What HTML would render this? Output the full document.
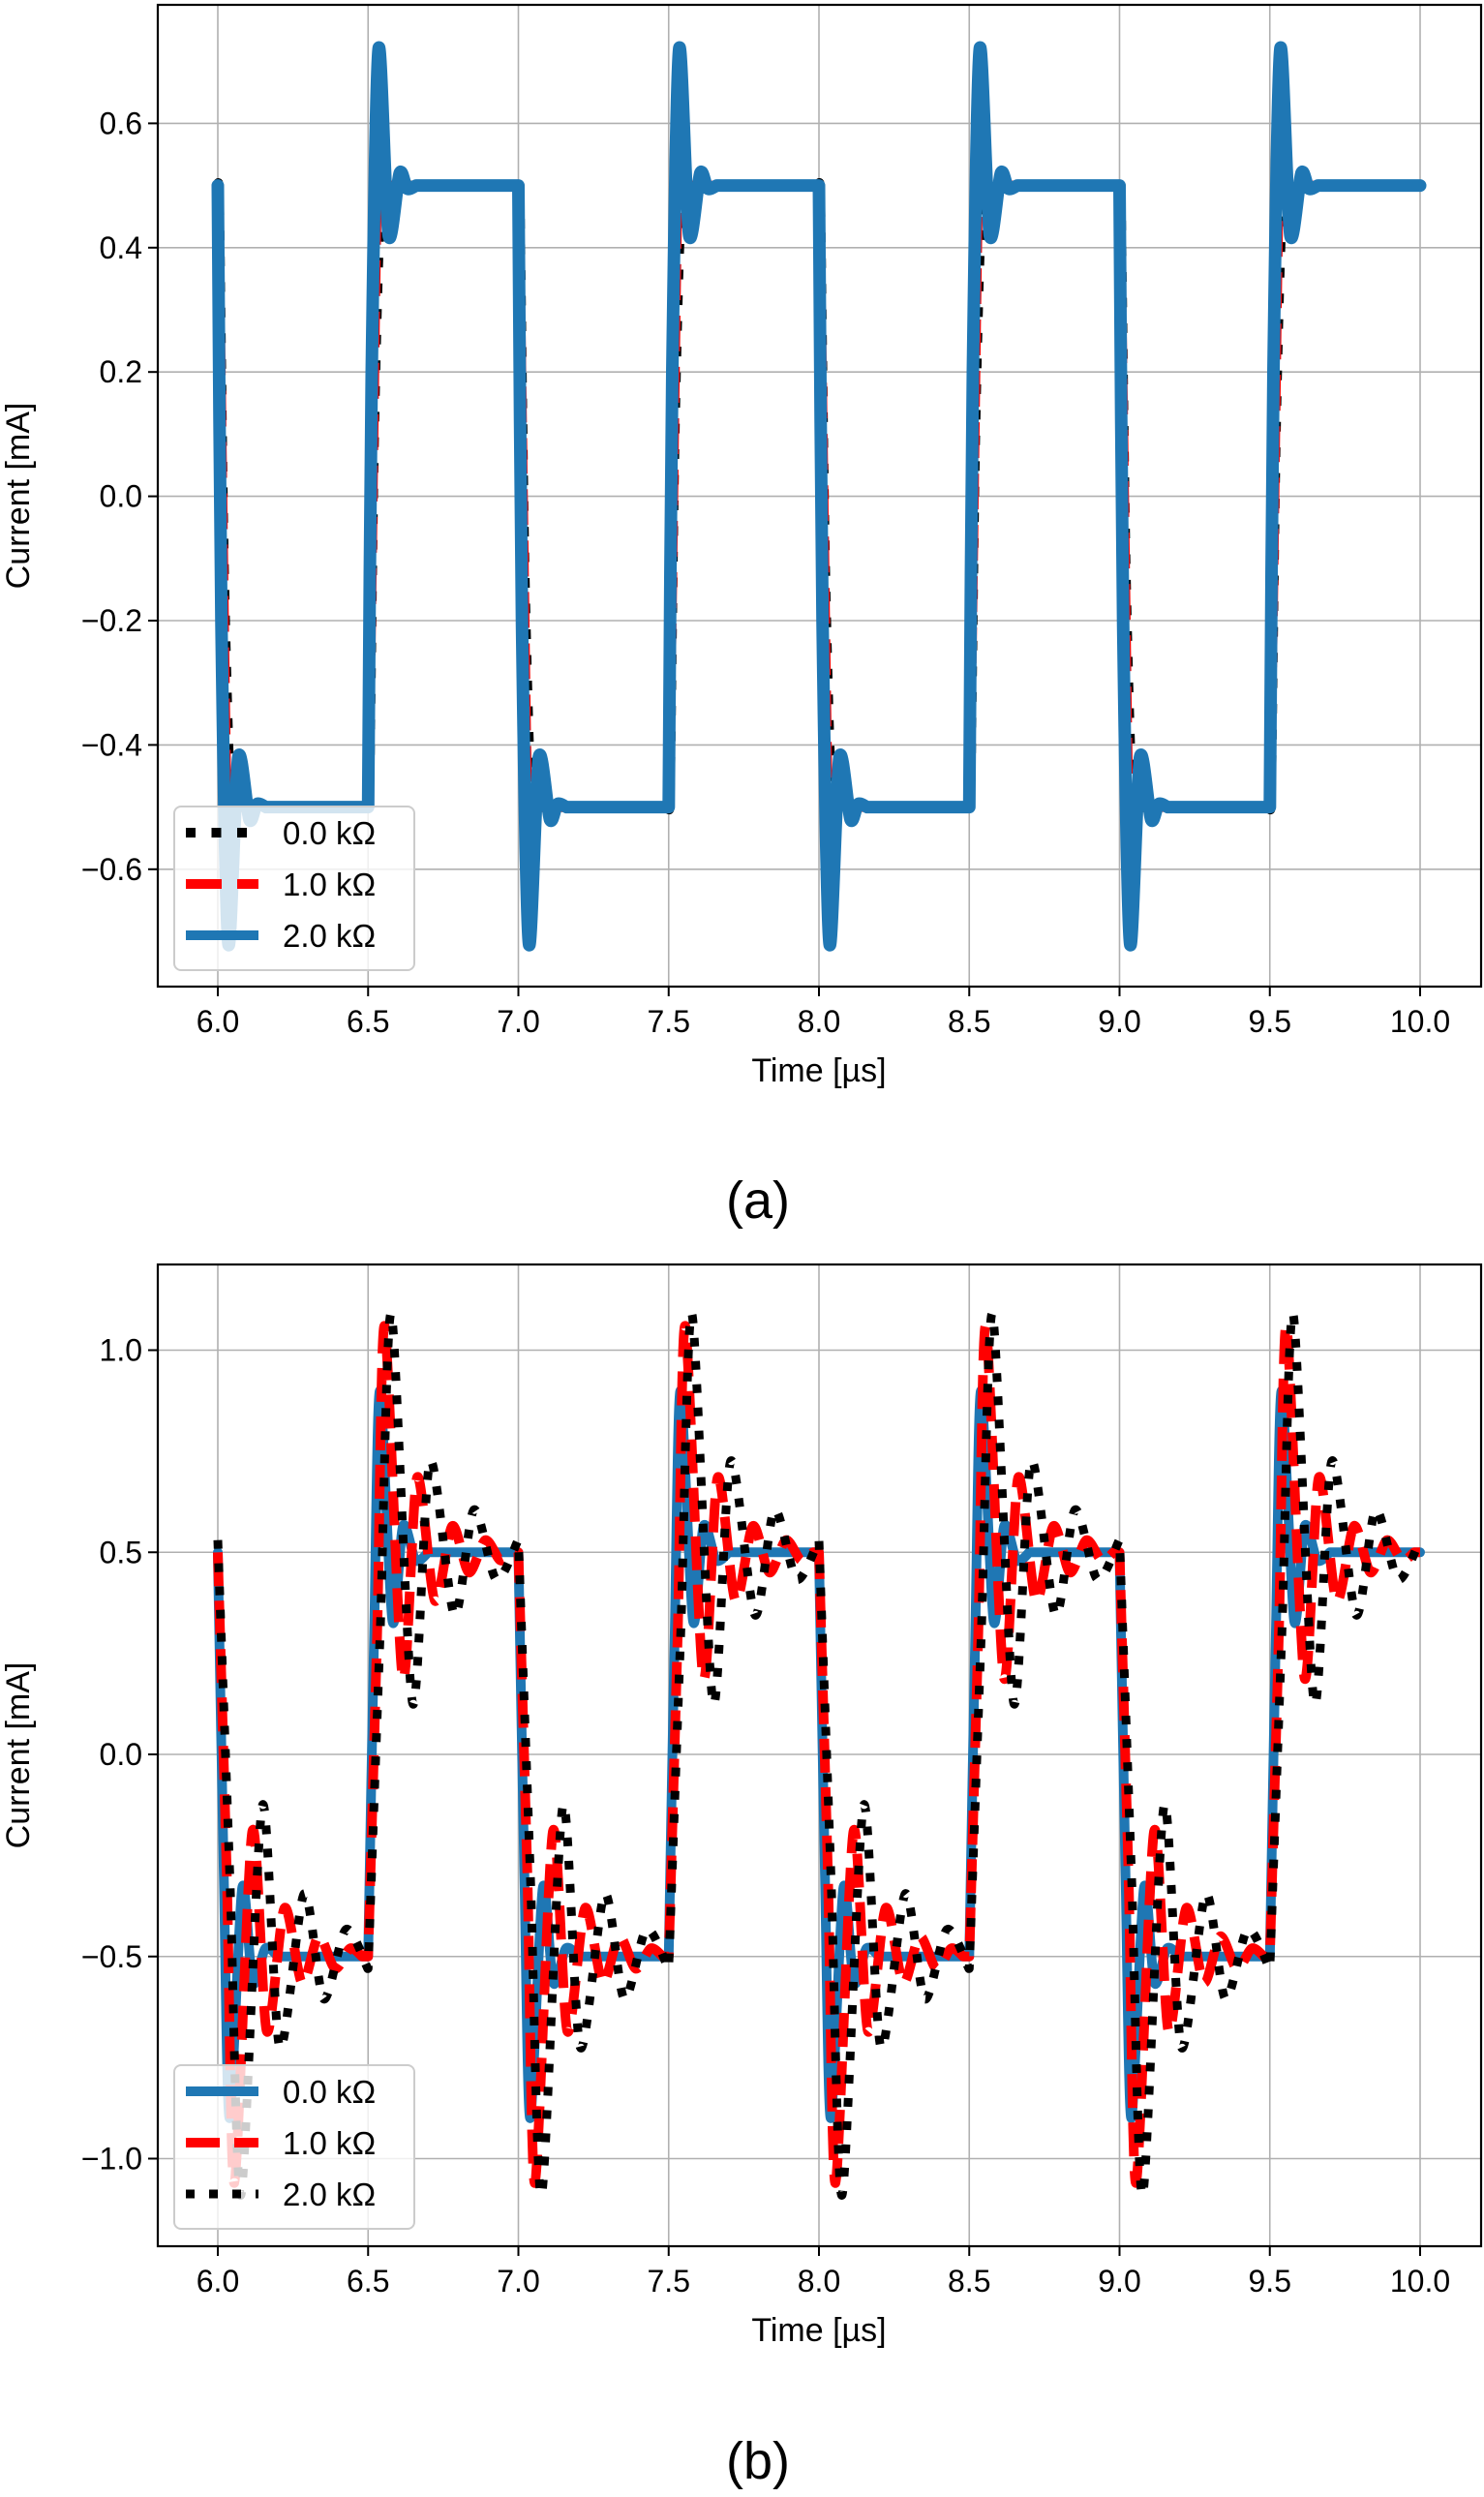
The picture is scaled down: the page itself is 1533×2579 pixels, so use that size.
<!DOCTYPE html>
<html><head><meta charset="utf-8">
<style>
html,body{margin:0;padding:0;background:#fff;}
svg{display:block;}
text{font-family:"Liberation Sans","DejaVu Sans",sans-serif;fill:#000;}
</style></head>
<body>
<svg id="fig" width="1533" height="2579" viewBox="0 0 1533 2579" xmlns="http://www.w3.org/2000/svg"></svg>
<script>
// ---- data ----
const xTicks = [6.0, 6.5, 7.0, 7.5, 8.0, 8.5, 9.0, 9.5, 10.0];
const yTicksA = [-0.6, -0.4, -0.2, 0.0, 0.2, 0.4, 0.6];
const yTicksB = [-1.0, -0.5, 0.0, 0.5, 1.0];
const edgeTimes = [6.0, 6.5, 7.0, 7.5, 8.0, 8.5, 9.0, 9.5];
const edgeDirs = [-1, 1, -1, 1, -1, 1, -1, 1];
const endTime = 10.0;
// transient shapes for a rising edge: time offsets (µs) and values (mA)
const aBlackDt = [0, 0.005, 0.02, 0.04, 0.06];
const aBlackV  = [-0.5, -0.45, 0.1, 0.46, 0.5];
const aRedDt = [0, 0.01, 0.03, 0.045, 0.06];
const aRedV  = [-0.5, -0.2, 0.5, 0.53, 0.5];
const aBlueDt = [0, 0.012, 0.035, 0.068, 0.105, 0.13, 0.16];
const aBlueV  = [-0.5, 0.2, 0.72, 0.42, 0.52, 0.495, 0.5];
const bBlueDt = [0, 0.02, 0.039, 0.081, 0.116, 0.158, 0.2];
const bBlueV  = [-0.5, 0.3, 0.90, 0.33, 0.565, 0.48, 0.5];
const bRedDt = [0, 0.03, 0.055, 0.115, 0.163, 0.222, 0.28, 0.335, 0.39, 0.44, 0.48];
const bRedV  = [-0.5, 0.3, 1.06, 0.19, 0.685, 0.38, 0.565, 0.45, 0.53, 0.48, 0.5];
const bBlackDt = [0, 0.04, 0.077, 0.148, 0.206, 0.287, 0.352, 0.426, 0.499];
const bBlackV  = [-0.53, 0.3, 1.09, 0.127, 0.725, 0.345, 0.605, 0.433, 0.53];

const NS = "http://www.w3.org/2000/svg";
const fig = document.getElementById('fig');
function mk(tag, attrs, parent){const e=document.createElementNS(NS,tag);for(const k in attrs)e.setAttribute(k,attrs[k]);(parent||fig).appendChild(e);return e;}
function fmt(v){return (v<0?'\u2212':'')+Math.abs(v).toFixed(1);}

function buildGroups(dts, vs){
  const groups=[];
  edgeTimes.forEach((t0,i)=>{
    const d=edgeDirs[i];
    const grp=[];
    for(let j=0;j<dts.length;j++) grp.push([t0+dts[j], d*vs[j]]);
    groups.push(grp);
  });
  return groups;
}
function smoothSeg(P, first){
  let d=(first?'M':'L')+P[0][0].toFixed(1)+' '+P[0][1].toFixed(1);
  const k=0.14;
  for(let i=0;i<P.length-1;i++){
    const p0=P[Math.max(0,i-1)],p1=P[i],p2=P[i+1],p3=P[Math.min(P.length-1,i+2)];
    const c1=[p1[0]+(p2[0]-p0[0])*k,p1[1]+(p2[1]-p0[1])*k];
    const c2=[p2[0]-(p3[0]-p1[0])*k,p2[1]-(p3[1]-p1[1])*k];
    d+=' C'+c1[0].toFixed(1)+' '+c1[1].toFixed(1)+' '+c2[0].toFixed(1)+' '+c2[1].toFixed(1)+' '+p2[0].toFixed(1)+' '+p2[1].toFixed(1);
  }
  return d;
}

function drawPanel(p){
  const L=163,R=1530,T=p.top,B=p.bottom;
  const sx=v=>225+(v-6.0)*310.5;
  const sy=v=>p.y0+(-v)*p.ppu;
  const g=mk('g',{});
  
  
  const cid='clip-'+p.name;
  const cp=mk('clipPath',{id:cid},g); mk('rect',{x:L,y:T,width:R-L,height:B-T},cp);
  xTicks.forEach(v=>{const l=mk('line',{x1:sx(v),x2:sx(v),y1:T,y2:B,stroke:'#b0b0b0','stroke-width':1.6},g);
    });
  p.yTicks.forEach(v=>{const l=mk('line',{x1:L,x2:R,y1:sy(v),y2:sy(v),stroke:'#b0b0b0','stroke-width':1.6},g);
    });
  const sg=mk('g',{'clip-path':'url(#'+cid+')'},g);
  p.series.forEach(s=>{
    const groups=buildGroups(s.dt,s.v).map(gr=>gr.map(q=>[sx(q[0]),sy(q[1])]));
    let d='';
    groups.forEach((gr,i)=>{ d+=(i?' ':'')+smoothSeg(gr,i===0); });
    const last=groups[groups.length-1];
    d+=' L'+sx(endTime).toFixed(1)+' '+last[last.length-1][1].toFixed(1);
    const a={d:d,fill:'none',stroke:s.color,'stroke-width':s.lw,'stroke-linejoin':'round'};
    if(s.dash){a['stroke-dasharray']=s.dash;a['stroke-linecap']='butt';}else a['stroke-linecap']='round';
    const path=mk('path',a,sg);
    
    
  });
  const fr=mk('rect',{x:L,y:T,width:R-L,height:B-T,fill:'none',stroke:'#000','stroke-width':2.2},g);
  
  xTicks.forEach(v=>{
    mk('line',{x1:sx(v),x2:sx(v),y1:B,y2:B+10,stroke:'#000','stroke-width':2},g);
    const t=mk('text',{x:sx(v),y:B+47,'font-size':32,'text-anchor':'middle'},g);t.textContent=v.toFixed(1);
    
  });
  p.yTicks.forEach(v=>{
    mk('line',{x1:L-10,x2:L,y1:sy(v),y2:sy(v),stroke:'#000','stroke-width':2},g);
    const t=mk('text',{x:L-16,y:sy(v)+11,'font-size':32,'text-anchor':'end'},g);t.textContent=fmt(v);
    
  });
  const xl=mk('text',{x:846,y:B+98,'font-size':34,'text-anchor':'middle'},g);xl.textContent='Time [µs]';
  
  const cy=(T+B)/2;
  const yl=mk('text',{x:30,y:cy,'font-size':34,'text-anchor':'middle',transform:'rotate(-90 30 '+cy+')'},g);yl.textContent='Current [mA]';
  
  const lg=mk('g',{},g);
  
  const ly=p.legTop;
  mk('rect',{x:180,y:ly,width:248,height:169,rx:7,fill:'#fff','fill-opacity':0.8,stroke:'#cccccc','stroke-width':2},lg);
  p.legend.forEach((s,i)=>{
    const yy=ly+27+i*53;
    const a={x1:192,x2:267,y1:yy,y2:yy,stroke:s.color,'stroke-width':Math.min(s.lw,10)};
    if(s.dash)a['stroke-dasharray']=s.dash;
    mk('line',a,lg);
    const t=mk('text',{x:292,y:yy+12,'font-size':33},lg);t.textContent=s.label;
    
  });
  const cap=mk('text',{x:783,y:p.capY,'font-size':54,'text-anchor':'middle'},g);cap.textContent=p.caption;
  
}

const DOT='10 16.5', DASH='37 16';
const aBlack={id:'series-0k',color:'#000',lw:10,dash:DOT,dt:aBlackDt,v:aBlackV,label:'0.0 kΩ'};
const aRed={id:'series-1k',color:'#ff0000',lw:10,dash:DASH,dt:aRedDt,v:aRedV,label:'1.0 kΩ'};
const aBlue={id:'series-2k',color:'#1f77b4',lw:13,dt:aBlueDt,v:aBlueV,label:'2.0 kΩ'};
drawPanel({name:'panel-a',top:5,bottom:1019,y0:512.6,ppu:642,yTicks:yTicksA,
  series:[aBlack,aRed,aBlue],legend:[aBlack,aRed,aBlue],legTop:833,caption:'(a)',capY:1258});

const bBlue={id:'series-0k',color:'#1f77b4',lw:10,dt:bBlueDt,v:bBlueV,label:'0.0 kΩ'};
const bRed={id:'series-1k',color:'#ff0000',lw:10,dash:'35 15',dt:bRedDt,v:bRedV,label:'1.0 kΩ'};
const bBlack={id:'series-2k',color:'#000',lw:9,dash:'9 15',dt:bBlackDt,v:bBlackV,label:'2.0 kΩ'};
drawPanel({name:'panel-b',top:1306,bottom:2320,y0:1812,ppu:417.5,yTicks:yTicksB,
  series:[bBlue,bRed,bBlack],legend:[bBlue,bRed,bBlack],legTop:2133,caption:'(b)',capY:2560});
</script>
</body></html>
